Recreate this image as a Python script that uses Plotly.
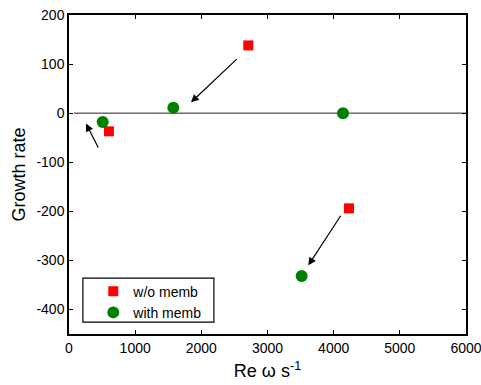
import plotly.graph_objects as go

# Data
wo_x = [2710, 604, 4231]
wo_y = [138, -37, -194]
with_x = [509, 1577, 4141, 3516]
with_y = [-18, 11, 0, -332]

# arrows: (tail_x, tail_y, head_x, head_y)
arrows = [
    (2558, 113, 1843, 22),
    (453, -73, 257, -21),
    (4121, -206, 3617, -310),
]

x_ticks = [0, 1000, 2000, 3000, 4000, 5000, 6000]
x_ticklabels = ["0", "1000", "2000", "3000", "4000", "5000", "6000"]
y_ticks = [200, 100, 0, -100, -200, -300, -400]
y_ticklabels = ["200", "100", "0", "-100", "-200", "-300", "-400"]

zero_line_start = 75

font = "Liberation Sans, Arial, sans-serif"

fig = go.Figure()
fig.add_trace(go.Scatter(x=wo_x, y=wo_y, mode="markers", name="w/o memb",
                         marker=dict(symbol="square", size=10, color="#ff0000")))
fig.add_trace(go.Scatter(x=with_x, y=with_y, mode="markers", name="with memb",
                         marker=dict(symbol="circle", size=12, color="#008000")))

fig.add_shape(type="line", x0=zero_line_start, x1=6000, y0=0, y1=0,
              line=dict(color="#222222", width=1), layer="below")

# legend frame (tighter than plotly's default padding)
fig.add_shape(type="rect", xref="paper", yref="paper",
              x0=0.035, x1=0.365, y0=0.037, y1=0.175,
              line=dict(color="black", width=1.2), fillcolor="white", layer="below")

for tx, ty, hx, hy in arrows:
    fig.add_annotation(x=hx, y=hy, ax=tx, ay=ty, xref="x", yref="y",
                       axref="x", ayref="y", text="", showarrow=True,
                       arrowhead=2, arrowsize=1.3, arrowwidth=1.2, arrowcolor="black")

axis_common = dict(showgrid=False, zeroline=False, showline=True, linecolor="black",
                   linewidth=1.5, mirror="ticks", ticks="inside", ticklen=4,
                   tickcolor="black", automargin=False, ticklabeloverflow="allow",
                   tickfont=dict(family=font, size=14, color="black"))

fig.update_xaxes(range=[0, 6000], tickvals=x_ticks, ticktext=x_ticklabels,
                 title=dict(text="Re ω s<sup>-1</sup>", font=dict(family=font, size=18, color="black"),
                            standoff=10),
                 **axis_common)
fig.update_yaxes(range=[-450, 200], tickvals=y_ticks, ticktext=y_ticklabels,
                 title=dict(text="Growth rate", font=dict(family=font, size=18, color="black"),
                            standoff=6),
                 **axis_common)

fig.update_layout(
    width=481, height=385,
    margin=dict(l=69, r=15, t=15, b=51),
    plot_bgcolor="white", paper_bgcolor="white",
    legend=dict(x=0.036, y=0.017, xanchor="left", yanchor="bottom",
                borderwidth=0, bgcolor="rgba(0,0,0,0)",
                font=dict(family=font, size=14, color="black"),
                itemwidth=30, tracegroupgap=0, indentation=10,
                entrywidth=80),
    font=dict(family=font),
)

fig.write_html("out.html")
